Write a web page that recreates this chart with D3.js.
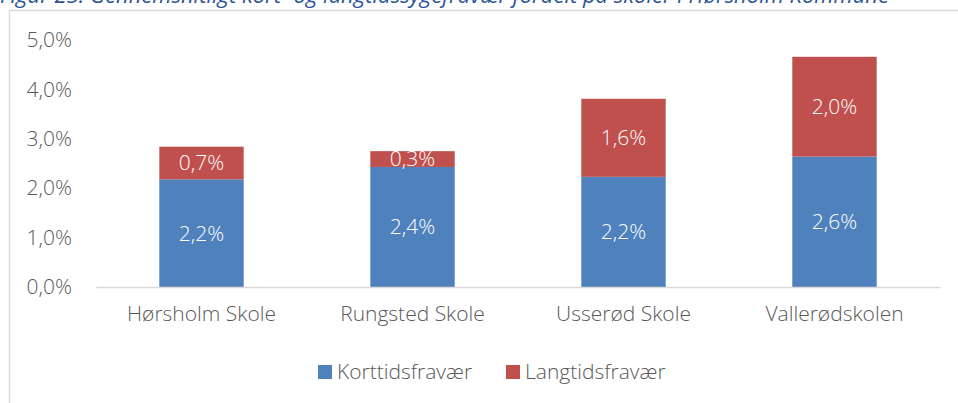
<!DOCTYPE html>
<html>
<head>
<meta charset="utf-8">
<script src="https://cdn.jsdelivr.net/npm/d3@7"></script>
<style>
  body { margin: 0; background: #fff; }
  svg { display: block; }
</style>
</head>
<body>
<div id="wrapper"></div>
<script>
const title = "Figur 23: Gennemsnitligt kort- og langtidssygefravær fordelt på skoler i Hørsholm Kommune";
const schools = ["Hørsholm Skole", "Rungsted Skole", "Usserød Skole", "Vallerødskolen"];
const shortTerm = [2.18, 2.43, 2.23, 2.64];
const longTerm = [0.66, 0.32, 1.58, 2.02];
const seriesNames = ["Korttidsfravær", "Langtidsfravær"];
const yTicks = [0, 1, 2, 3, 4, 5];

function drawChart() {
  const dimensions = {
    width: 958,
    height: 403,
    margin: { top: 40, right: 18, bottom: 116, left: 96 },
  };
  dimensions.boundedWidth = dimensions.width - dimensions.margin.left - dimensions.margin.right;
  dimensions.boundedHeight = dimensions.height - dimensions.margin.top - dimensions.margin.bottom;

  const font = "'Open Sans', sans-serif";
  const fontSize = 21;
  const textColor = "#595959";
  const colors = ["#4f81bd", "#c0504d"];

  const dataset = schools.map((s, i) => ({ school: s, short: shortTerm[i], long: longTerm[i] }));

  const wrapper = d3.select("#wrapper")
    .append("svg")
    .attr("width", dimensions.width)
    .attr("height", dimensions.height);

  // chart frame (only left and top edges visible in the crop)
  wrapper.append("rect")
    .attr("x", 9.5)
    .attr("y", 10.5)
    .attr("width", 1000)
    .attr("height", 500)
    .attr("fill", "none")
    .attr("stroke", "#d9d9d9")
    .attr("stroke-width", 1.5);

  // caption, clipped by the top edge as in the source
  wrapper.append("text")
    .attr("x", 0)
    .attr("y", 3)
    .attr("font-family", font)
    .attr("font-style", "italic")
    .attr("font-size", 22)
    .attr("fill", "#2e5597")
    .text(title);

  const bounds = wrapper.append("g")
    .attr("transform", `translate(${dimensions.margin.left},${dimensions.margin.top})`);

  const yScale = d3.scaleLinear()
    .domain([0, 5])
    .range([dimensions.boundedHeight, 0]);

  const xScale = d3.scaleBand()
    .domain(schools)
    .range([0, dimensions.boundedWidth])
    .paddingInner(0.6)
    .paddingOuter(0.3);

  const stack = d3.stack().keys(["short", "long"]);
  const series = stack(dataset);

  const layers = bounds.selectAll(".layer")
    .data(series)
    .join("g")
    .attr("fill", (d, i) => colors[i]);

  layers.selectAll("rect")
    .data(d => d)
    .join("rect")
    .attr("x", d => xScale(d.data.school))
    .attr("y", d => yScale(d[1]))
    .attr("width", xScale.bandwidth())
    .attr("height", d => yScale(d[0]) - yScale(d[1]));

  layers.selectAll("text")
    .data(d => d)
    .join("text")
    .attr("x", d => xScale(d.data.school) + xScale.bandwidth() / 2)
    .attr("y", d => (yScale(d[0]) + yScale(d[1])) / 2)
    .attr("dy", "0.35em")
    .attr("text-anchor", "middle")
    .attr("font-family", font)
    .attr("font-weight", 300)
    .attr("font-size", fontSize)
    .attr("fill", "#fff")
    .text(d => (d[1] - d[0]).toFixed(1).replace(".", ",") + "%");

  // baseline
  const xAxisGenerator = d3.axisBottom(xScale).tickSize(0).tickPadding(19);
  const xAxis = bounds.append("g")
    .attr("transform", `translate(0,${dimensions.boundedHeight})`)
    .call(xAxisGenerator);
  xAxis.select(".domain").attr("stroke", "#d9d9d9").attr("stroke-width", 1.5);
  xAxis.selectAll("text")
    .attr("font-family", font)
    .attr("font-weight", 300)
    .attr("font-size", fontSize)
    .attr("fill", textColor);

  const yAxisGenerator = d3.axisLeft(yScale)
    .tickValues(yTicks)
    .tickSize(0)
    .tickPadding(24)
    .tickFormat(d => d.toFixed(1).replace(".", ",") + "%");
  const yAxis = bounds.append("g").call(yAxisGenerator);
  yAxis.select(".domain").remove();
  yAxis.selectAll("text")
    .attr("font-family", font)
    .attr("font-weight", 300)
    .attr("font-size", fontSize)
    .attr("fill", textColor);

  // legend
  const legend = wrapper.append("g")
    .attr("transform", "translate(318,372)");
  const legendOffsets = [0, 188];
  const items = legend.selectAll("g")
    .data(seriesNames)
    .join("g")
    .attr("transform", (d, i) => `translate(${legendOffsets[i]},0)`);
  items.append("rect")
    .attr("x", 0)
    .attr("y", -7)
    .attr("width", 14)
    .attr("height", 14)
    .attr("fill", (d, i) => colors[i]);
  items.append("text")
    .attr("x", 19)
    .attr("dy", "0.35em")
    .attr("font-family", font)
    .attr("font-weight", 300)
    .attr("font-size", fontSize)
    .attr("fill", textColor)
    .text(d => d);
}

drawChart();
</script>
</body>
</html>
